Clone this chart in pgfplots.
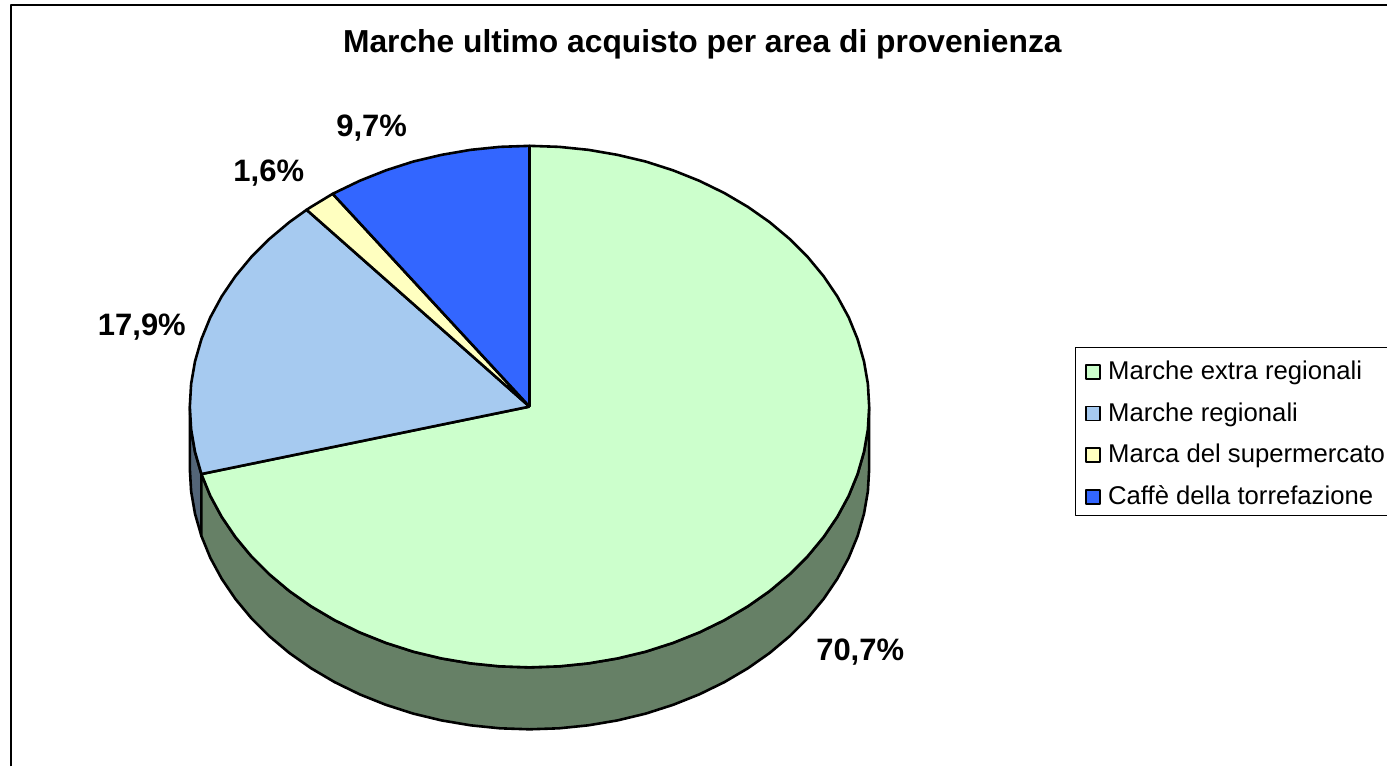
\documentclass[border=0pt]{standalone}
\usepackage{pgfplots}
\pgfplotsset{compat=1.18}
\usepackage{fontspec}
\setmainfont{Liberation Sans}
\definecolor{cGreen}{HTML}{CCFFCC}
\definecolor{cLight}{HTML}{A6CAF0}
\definecolor{cYellow}{HTML}{FFFFC0}
\definecolor{cBlue}{HTML}{3366FF}
\definecolor{sGreen}{HTML}{668066}
\definecolor{sLight}{HTML}{536578}
\begin{document}
\begin{tikzpicture}
\begin{axis}[
  scale only axis, width=694pt, height=384pt,
  xmin=0, xmax=1388, ymin=0, ymax=768, y dir=reverse,
  hide axis, clip=false,
  legend style={at={(axis cs:1086,358.5)}, anchor=north west, draw=none, fill=none,
    font=\fontsize{12.85pt}{15pt}\selectfont, inner sep=0pt, outer sep=0pt,
    row sep=7pt, legend cell align=left,
    nodes={inner sep=1.5pt}},
  legend image code/.code={\draw[#1, line width=0.9pt] (0pt,-3.5pt) rectangle (7pt,3.5pt); \path (9pt,0pt);},
  every axis plot/.append style={line width=1.3pt, line join=round},
]
% extent of the picture
\addplot[forget plot, draw=none] coordinates {(0,0)(1388,768)};
% chart frame
\addplot[forget plot, draw=black] coordinates {(11,767)(11,5)(1388,5)};
% legend frame
\addplot[forget plot, draw=black, line width=0.8pt] coordinates {(1388,348)(1076.5,348)(1076.5,516)(1388,516)};
% side of the pie
\addplot[forget plot, fill=sLight, draw=black] coordinates {(201.6,474.5)(195.2,452.3)(191.3,429.8)(190,407)(190,469)(191.3,491.8)(195.2,514.3)(201.6,536.5)(201.6,474.5)};
\addplot[forget plot, fill=sGreen, draw=black] coordinates {(870,407)(868.7,429.8)(864.8,452.3)(858.4,474.5)(849.5,496.3)(838.1,517.3)(824.4,537.5)(808.5,556.7)(790.4,574.8)(770.4,591.6)(748.6,606.9)(725,620.8)(700,633)(673.7,643.5)(646.3,652.3)(618,659.1)(589,664)(559.6,667)(530,668)(500.4,667)(471,664)(442,659.1)(413.7,652.3)(386.3,643.5)(360,633)(335,620.8)(311.4,606.9)(289.6,591.6)(269.6,574.8)(251.5,556.7)(235.6,537.5)(221.9,517.3)(210.5,496.3)(201.6,474.5)
 (201.6,536.5)(210.5,558.3)(221.9,579.3)(235.6,599.5)(251.5,618.7)(269.6,636.8)(289.6,653.6)(311.4,668.9)(335,682.8)(360,695)(386.3,705.5)(413.7,714.3)(442,721.1)(471,726)(500.4,729)(530,730)(559.6,729)(589,726)(618,721.1)(646.3,714.3)(673.7,705.5)(700,695)(725,682.8)(748.6,668.9)(770.4,653.6)(790.4,636.8)(808.5,618.7)(824.4,599.5)(838.1,579.3)(849.5,558.3)(858.4,536.5)(864.8,514.3)(868.7,491.8)(870,469)(870,407)};
% top slices
\addplot[fill=cGreen, draw=black] coordinates {(530,407)(530,146)(559.6,147)(589,150)(618,155)(646.3,161.7)(673.7,170.5)(700,181)(725,193.2)(748.6,207.1)(770.4,222.4)(790.4,239.2)(808.5,257.3)(824.4,276.5)(838.1,296.7)(849.5,317.7)(858.4,339.5)(864.8,361.7)(868.7,384.2)(870,407)(868.7,429.8)(864.8,452.3)(858.4,474.5)(849.5,496.3)(838.1,517.3)(824.4,537.5)(808.5,556.7)(790.4,574.8)(770.4,591.6)(748.6,606.9)(725,620.8)(700,633)(673.7,643.5)(646.3,652.3)(618,659.1)(589,664)(559.6,667)(530,668)(500.4,667)(471,664)(442,659.1)(413.7,652.3)(386.3,643.5)(360,633)(335,620.8)(311.4,606.9)(289.6,591.6)(269.6,574.8)(251.5,556.7)(235.6,537.5)(221.9,517.3)(210.5,496.3)(201.6,474.5)(530,407)};
\addlegendentry{Marche extra regionali}
\addplot[fill=cLight, draw=black] coordinates {(530,407)(201.6,474.5)(195.2,452.3)(191.3,429.8)(190,407)(191.3,384.2)(195.2,361.7)(201.6,339.5)(210.5,317.7)(221.9,296.7)(235.6,276.5)(251.5,257.3)(269.6,239.2)(289.6,222.4)(306.9,210)(530,407)};
\addlegendentry{Marche regionali}
\addplot[fill=cYellow, draw=black] coordinates {(530,407)(306.9,210)(311.4,207.1)(333,194)(530,407)};
\addlegendentry{Marca del supermercato}
\addplot[fill=cBlue, draw=black] coordinates {(530,407)(333,194)(360,181)(386.3,170.5)(413.7,161.7)(442,155)(471,150)(500.4,147)(530,146)(530,407)};
\addlegendentry{Caffè della torrefazione}
% texts
\node[font=\fontsize{15.9pt}{18pt}\selectfont\bfseries] at (axis cs:703,44) {Marche ultimo acquisto per area di provenienza};
\node[font=\fontsize{15.5pt}{18pt}\selectfont\bfseries] at (axis cs:372,128) {9,7\%};
\node[font=\fontsize{15.5pt}{18pt}\selectfont\bfseries] at (axis cs:269,173) {1,6\%};
\node[font=\fontsize{15.5pt}{18pt}\selectfont\bfseries] at (axis cs:142,327) {17,9\%};
\node[font=\fontsize{15.5pt}{18pt}\selectfont\bfseries] at (axis cs:861,653) {70,7\%};
\end{axis}
\end{tikzpicture}
\end{document}
